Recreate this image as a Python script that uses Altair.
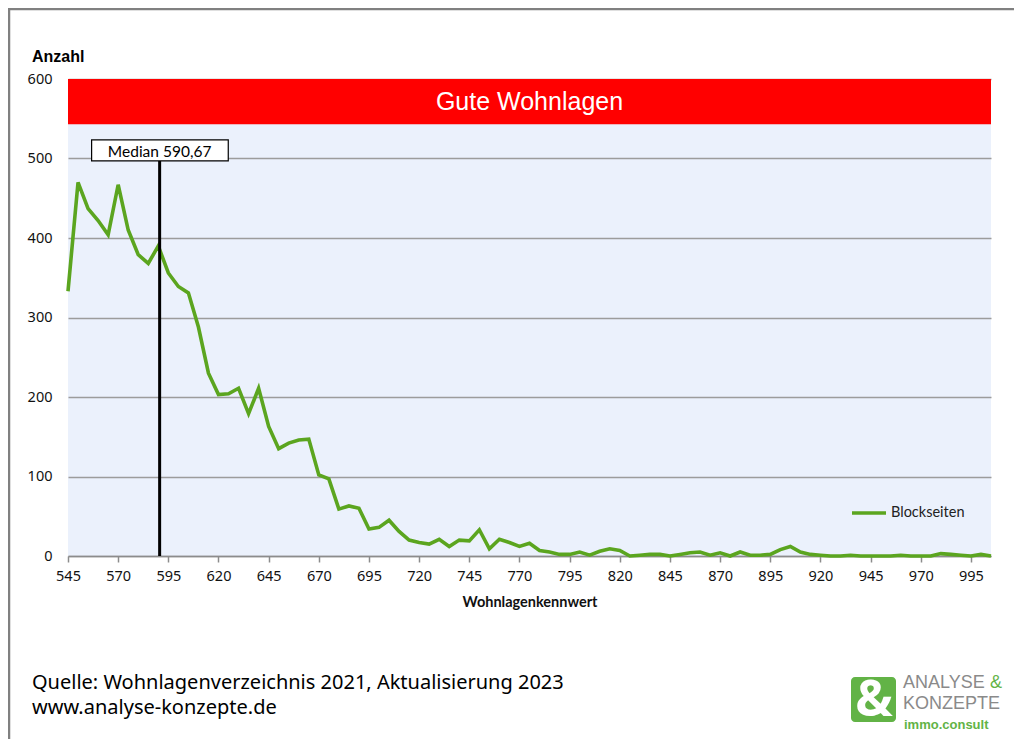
import altair as alt
import pandas as pd

# ---- data ----
wohnlagenkennwert = list(range(545, 1010, 5))
blockseiten = [
    333, 470, 437, 422, 404, 467, 410, 379, 368, 390,
    356, 339, 331, 288, 230, 203, 204, 211, 179, 211,
    163, 135, 142, 146, 147, 102, 97, 59, 63, 60,
    34, 36, 45, 31, 20, 17, 15, 21, 12, 20,
    19, 33, 9, 21, 17, 12, 16, 7, 5, 2,
    2, 5, 1, 6, 9, 7, 0, 1, 2, 2,
    0, 2, 4, 5, 1, 4, 0, 5, 1, 1,
    2, 8, 12, 5, 2, 1, 0, 0, 1, 0,
    0, 0, 0, 1, 0, 0, 0, 3, 2, 1,
    0, 2, 0,
]
x_ticks = list(range(545, 1000, 25))
y_ticks = [0, 100, 200, 300, 400, 500, 600]
median_value = 590.67
median_label = "Median 590,67"
band_low, band_high = 543, 600
band_label = "Gute Wohnlagen"
series_name = "Blockseiten"
source_lines = ["Quelle: Wohnlagenverzeichnis 2021, Aktualisierung 2023", "www.analyse-konzepte.de"]

df = pd.DataFrame({"x": wohnlagenkennwert, "y": blockseiten, "s": [series_name] * len(blockseiten)})

W, H = 923, 477
GREEN = "#5BA51F"
LOGO_GREEN = "#62B346"

xscale = alt.Scale(domain=[545, 1005], nice=False, zero=False)
yscale = alt.Scale(domain=[0, 600], nice=False)

xaxis = alt.Axis(values=x_ticks, title="Wohnlagenkennwert", grid=False,
                 domainColor="#8c8c8c", domainWidth=1.5, tickColor="#8c8c8c", tickWidth=1.5,
                 tickSize=6, labelPadding=7, labelFont="Noto Sans", labelFontSize=14.5,
                 labelColor="#111", titleFont="Lato", titleFontSize=14.5, titleFontWeight="bold",
                 titleColor="#111", titlePadding=13, labelFlush=False)
yaxis = alt.Axis(values=y_ticks, title=None, grid=True, gridColor="#9c9c9c", gridWidth=1.5,
                 domain=False, ticks=False, labelPadding=16, labelFont="Noto Sans",
                 labelFontSize=14.5, labelColor="#111")

base = alt.Chart(df)

band = alt.Chart(pd.DataFrame({"a": [0]})).mark_rect(color="#FF0000").encode(
    x=alt.value(0), x2=alt.value(W),
    y=alt.datum(band_high, scale=yscale), y2=alt.datum(band_low),
)
band_text = alt.Chart(pd.DataFrame({"t": [band_label]})).mark_text(
    color="white", font="Liberation Sans", fontSize=25, baseline="middle", align="center"
).encode(x=alt.value(W / 2), y=alt.datum((band_low + band_high) / 2), text="t:N")

line = base.mark_line(strokeWidth=3.6, strokeJoin="miter").encode(
    x=alt.X("x:Q", scale=xscale, axis=xaxis),
    y=alt.Y("y:Q", scale=yscale, axis=yaxis),
    color=alt.Color("s:N", scale=alt.Scale(range=[GREEN]),
                    legend=alt.Legend(title=None, orient="none", legendX=782, legendY=415,
                                      symbolType="stroke", symbolSize=1156, symbolStrokeWidth=3.6,
                                      labelFont="Lato", labelFontSize=14.5, labelColor="#222",
                                      labelOffset=3, padding=0)),
)

med = pd.DataFrame({"m": [median_value], "lbl": [median_label]})
median_rule = alt.Chart(med).mark_rule(color="black", strokeWidth=3).encode(
    x=alt.X("m:Q", scale=xscale), y=alt.datum(0), y2=alt.datum(497)
)
median_box = alt.Chart(med).transform_calculate(
    a="datum.m - 33.9", b="datum.m + 34.2"
).mark_rect(fill="white", stroke="black", strokeWidth=1.2).encode(
    x=alt.X("a:Q", scale=xscale), x2="b:Q", y=alt.datum(497), y2=alt.datum(523.5)
)
median_text = alt.Chart(med).mark_text(font="Lato", fontSize=15.5, color="black",
                                       baseline="middle", align="center", dy=1).encode(
    x=alt.X("m:Q", scale=xscale), y=alt.datum(510), text="lbl:N"
)

# annotations outside plot area
anzahl = alt.Chart(pd.DataFrame({"t": ["Anzahl"]})).mark_text(
    font="Liberation Sans", fontSize=16, fontWeight="bold",
    align="left", baseline="middle", color="black").encode(
    x=alt.value(-36), y=alt.value(-22), text="t:N")
foot1 = alt.Chart(pd.DataFrame({"t": [source_lines[0]]})).mark_text(
    font="Noto Sans", fontSize=20, align="left", baseline="middle", color="black").encode(
    x=alt.value(-36), y=alt.value(604), text="t:N")
foot2 = alt.Chart(pd.DataFrame({"t": [source_lines[1]]})).mark_text(
    font="Noto Sans", fontSize=20, align="left", baseline="middle", color="black").encode(
    x=alt.value(-36), y=alt.value(629), text="t:N")

# logo
logo_sq = alt.Chart(pd.DataFrame({"a": [0]})).mark_rect(fill=LOGO_GREEN, cornerRadius=4).encode(
    x=alt.value(783), x2=alt.value(828), y=alt.value(598), y2=alt.value(643))
logo_amp = alt.Chart(pd.DataFrame({"t": ["&"]})).mark_text(
    font="Open Sans", fontSize=50, fontWeight="bold", color="white", align="center", baseline="middle"
).encode(x=alt.value(806), y=alt.value(622), text="t:N")
logo_t1 = alt.Chart(pd.DataFrame({"t": ["ANALYSE"]})).mark_text(
    font="Liberation Sans", fontSize=18, color="#8a8a8a", align="left", baseline="middle"
).encode(x=alt.value(835), y=alt.value(603.5), text="t:N")
logo_t1b = alt.Chart(pd.DataFrame({"t": ["&"]})).mark_text(
    font="Liberation Sans", fontSize=18, color=LOGO_GREEN, align="left", baseline="middle"
).encode(x=alt.value(922), y=alt.value(603.5), text="t:N")
logo_t2 = alt.Chart(pd.DataFrame({"t": ["KONZEPTE"]})).mark_text(
    font="Liberation Sans", fontSize=18, color="#8a8a8a", align="left", baseline="middle"
).encode(x=alt.value(835), y=alt.value(624.5), text="t:N")
logo_t3 = alt.Chart(pd.DataFrame({"t": ["immo.consult"]})).mark_text(
    font="Liberation Sans", fontSize=13, fontWeight="bold", color=LOGO_GREEN, align="left",
    baseline="middle"
).encode(x=alt.value(836), y=alt.value(645.5), text="t:N")

# frame
frame_top = alt.Chart(pd.DataFrame({"a": [0]})).mark_rule(color="#808080", strokeWidth=2.5).encode(
    x=alt.value(-60), x2=alt.value(W + 23), y=alt.value(-70))
frame_left = alt.Chart(pd.DataFrame({"a": [0]})).mark_rule(color="#808080", strokeWidth=2.5).encode(
    x=alt.value(-59), y=alt.value(-71), y2=alt.value(H + 183))

chart = alt.layer(
    band, band_text, line, median_rule, median_box, median_text,
    anzahl, foot1, foot2, logo_sq, logo_amp, logo_t1, logo_t1b, logo_t2, logo_t3,
    frame_top, frame_left,
).properties(
    width=W, height=H,
    padding={"left": 60, "top": 71, "right": 23, "bottom": 183},
    autosize=alt.AutoSizeParams(type="none"),
    background="white",
).configure_view(fill="#EBF1FC", stroke=None)

chart.save("out.html", embed_options={"renderer": "svg", "actions": False})
